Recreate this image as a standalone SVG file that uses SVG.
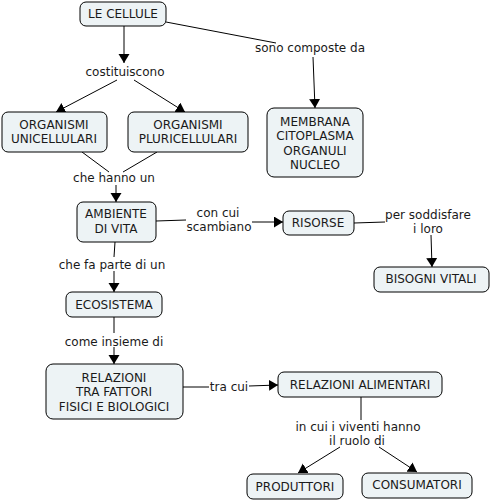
<svg xmlns="http://www.w3.org/2000/svg" width="491" height="501" viewBox="0 0 491 501">
<style>
.n rect{fill:#edf3f5;stroke:#000;stroke-width:1}
text{font-family:"DejaVu Sans","Verdana",sans-serif;font-size:12px;fill:#1a1a1a;text-anchor:middle}
.c line{stroke:#000;stroke-width:1}
.a{marker-end:url(#ah)}
</style>
<defs>
<marker id="ah" markerUnits="userSpaceOnUse" markerWidth="10" markerHeight="12" refX="9" refY="5.5" orient="auto">
<path d="M0,0 L9,5.5 L0,11 z" fill="#000"/>
</marker>
</defs>
<rect width="491" height="501" fill="#fff"/>
<g class="c" id="connectors">
<line x1="124" y1="26" x2="124" y2="63" class="a"/>
<line x1="117" y1="80" x2="56" y2="112" class="a"/>
<line x1="134" y1="80" x2="185" y2="112" class="a"/>
<line x1="166" y1="22" x2="276" y2="43"/>
<line x1="313" y1="57" x2="315" y2="108" class="a"/>
<line x1="82" y1="152" x2="109" y2="172"/>
<line x1="157" y1="152" x2="123" y2="172"/>
<line x1="116" y1="185" x2="116" y2="202" class="a"/>
<line x1="156" y1="221" x2="186" y2="220"/>
<line x1="252" y1="222" x2="283" y2="222" class="a"/>
<line x1="354" y1="223" x2="385" y2="222"/>
<line x1="431" y1="235" x2="432" y2="267" class="a"/>
<line x1="115" y1="242" x2="114" y2="257"/>
<line x1="114" y1="271" x2="114" y2="292" class="a"/>
<line x1="114" y1="317" x2="114" y2="333"/>
<line x1="114" y1="347" x2="114" y2="364" class="a"/>
<line x1="183" y1="387" x2="209" y2="387"/>
<line x1="249" y1="386" x2="278" y2="385" class="a"/>
<line x1="361" y1="397" x2="361" y2="420"/>
<line x1="340" y1="447" x2="298" y2="473" class="a"/>
<line x1="379" y1="447" x2="417" y2="472" class="a"/>
</g>
<g id="labels">
<text x="125" y="76">costituiscono</text>
<text x="310" y="52">sono composte da</text>
<text x="114" y="182">che hanno un</text>
<text x="218" y="217">con cui</text>
<text x="219" y="231">scambiano</text>
<text x="428" y="219">per soddisfare</text>
<text x="428" y="233">i loro</text>
<text x="112" y="269">che fa parte di un</text>
<text x="114" y="346">come insieme di</text>
<text x="229" y="391">tra cui</text>
<text x="358" y="431">in cui i viventi hanno</text>
<text x="357" y="445">il ruolo di</text>
</g>
<g class="n" id="n-cellule"><rect x="80" y="2" width="86" height="24" rx="6"/><text x="123" y="18">LE CELLULE</text></g>
<g class="n" id="n-uni"><rect x="2" y="112" width="105" height="40" rx="6"/><text x="54" y="129">ORGANISMI</text><text x="54" y="143">UNICELLULARI</text></g>
<g class="n" id="n-pluri"><rect x="128" y="112" width="120" height="40" rx="6"/><text x="188" y="129">ORGANISMI</text><text x="188" y="143">PLURICELLULARI</text></g>
<g class="n" id="n-membrana"><rect x="267" y="108" width="96" height="69" rx="7"/><text x="315" y="126">MEMBRANA</text><text x="315" y="140">CITOPLASMA</text><text x="315" y="155">ORGANULI</text><text x="315" y="169">NUCLEO</text></g>
<g class="n" id="n-ambiente"><rect x="77" y="202" width="79" height="40" rx="6"/><text x="116" y="218">AMBIENTE</text><text x="116" y="233">DI VITA</text></g>
<g class="n" id="n-risorse"><rect x="283" y="211" width="71" height="24" rx="6"/><text x="318" y="227">RISORSE</text></g>
<g class="n" id="n-bisogni"><rect x="374" y="267" width="115" height="25" rx="6"/><text x="431" y="283">BISOGNI VITALI</text></g>
<g class="n" id="n-ecosistema"><rect x="66" y="292" width="96" height="25" rx="6"/><text x="114" y="309">ECOSISTEMA</text></g>
<g class="n" id="n-relazioni"><rect x="46" y="364" width="137" height="55" rx="7"/><text x="114" y="382">RELAZIONI</text><text x="114" y="396">TRA FATTORI</text><text x="114" y="411">FISICI E BIOLOGICI</text></g>
<g class="n" id="n-alimentari"><rect x="278" y="372" width="164" height="25" rx="6"/><text x="360" y="389">RELAZIONI ALIMENTARI</text></g>
<g class="n" id="n-produttori"><rect x="247" y="474" width="96" height="25" rx="6"/><text x="295" y="491">PRODUTTORI</text></g>
<g class="n" id="n-consumatori"><rect x="362" y="473" width="110" height="25" rx="6"/><text x="417" y="489">CONSUMATORI</text></g>
</svg>
